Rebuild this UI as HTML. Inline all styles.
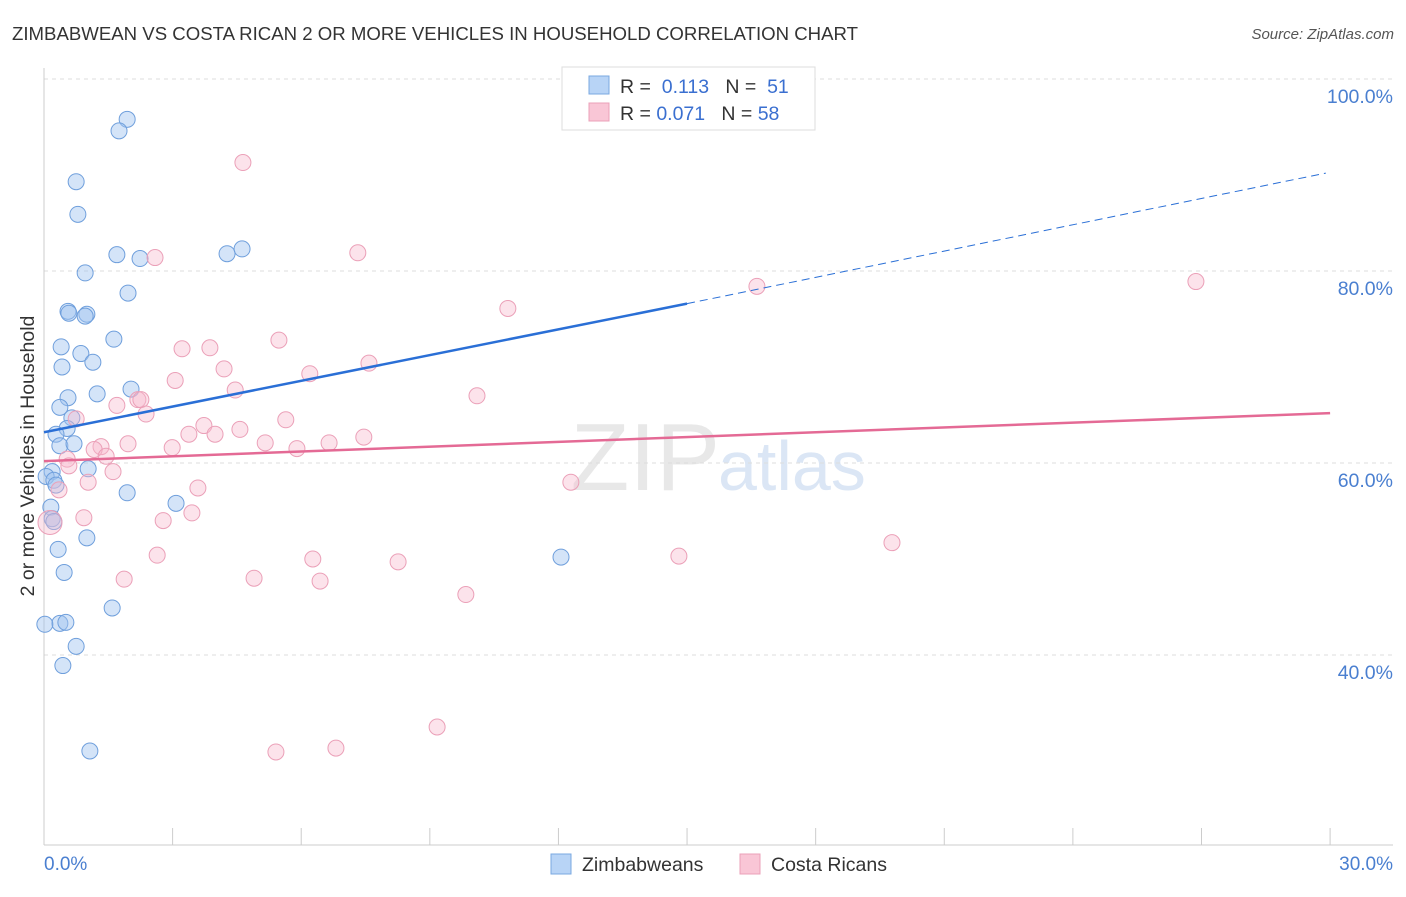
<!DOCTYPE html>
<html><head><meta charset="utf-8">
<style>
body{margin:0;background:#fff;font-family:"Liberation Sans",sans-serif;}
svg text{font-family:"Liberation Sans",sans-serif;}
</style></head>
<body>
<svg id="chart" width="1406" height="892" viewBox="0 0 1406 892" xmlns="http://www.w3.org/2000/svg">
<text x="12" y="40" font-size="18" fill="#333" textLength="846" lengthAdjust="spacingAndGlyphs">ZIMBABWEAN VS COSTA RICAN 2 OR MORE VEHICLES IN HOUSEHOLD CORRELATION CHART</text>
<text x="1394" y="39" font-size="15" fill="#555" text-anchor="end" font-style="italic">Source: ZipAtlas.com</text>
<text x="720" y="490" font-size="96" fill="#e8e8e8" text-anchor="end" font-family="Liberation Serif">ZIP</text>
<text x="718" y="490" font-size="70" fill="#dbe6f5">atlas</text>
<g id="grid"></g>
<g id="axes"></g>
<g id="pts"></g>
<g id="lines"></g>
<text transform="translate(34,456) rotate(-90)" font-size="19.5" fill="#333" text-anchor="middle">2 or more Vehicles in Household</text>
<text x="44" y="870" font-size="19" fill="#4a7fd0">0.0%</text>
<text x="1393" y="870" font-size="19" fill="#4a7fd0" text-anchor="end">30.0%</text>
<g>
<rect x="562" y="67" width="253" height="63" fill="#fff" stroke="#ddd"/>
<rect x="589" y="76" width="20" height="18" fill="#b8d4f6" stroke="#7aa8e0"/>
<rect x="589" y="103" width="20" height="18" fill="#f9c6d6" stroke="#eba0b8"/>
<text x="620" y="93" font-size="19.5" fill="#333">R = <tspan fill="#3a6fd0">&#160;0.113</tspan>&#160;&#160;&#160;N = <tspan fill="#3a6fd0">&#160;51</tspan></text>
<text x="620" y="120" font-size="19.5" fill="#333">R = <tspan fill="#3a6fd0">0.071</tspan>&#160;&#160;&#160;N = <tspan fill="#3a6fd0">58</tspan></text>
</g>
<g>
<rect x="551" y="854" width="20" height="20" fill="#b8d4f6" stroke="#7aa8e0"/>
<text x="582" y="871" font-size="19.5" fill="#333">Zimbabweans</text>
<rect x="740" y="854" width="20" height="20" fill="#f9c6d6" stroke="#eba0b8"/>
<text x="771" y="871" font-size="19.5" fill="#333">Costa Ricans</text>
</g>
</svg>
<script>
const yTicks=[40,60,80,100];
const yTickLabels=["40.0%","60.0%","80.0%","100.0%"];
const xTicks=[3,6,9,12,15,18,21,24,27,30];
const blueX=[1.94,1.75,0.75,0.79,1.70,2.24,4.27,4.62,0.96,1.96,0.56,0.58,1.00,0.96,1.63,0.40,0.86,0.42,1.14,2.03,1.24,0.56,0.37,0.65,0.54,0.28,0.37,0.70,1.03,0.19,0.05,0.23,0.28,1.94,3.08,0.16,0.19,0.23,1.00,0.33,0.47,1.59,0.37,0.51,0.02,0.75,0.44,1.07,12.06];
const blueY=[95.8,94.6,89.3,85.9,81.7,81.3,81.8,82.3,79.8,77.7,75.8,75.6,75.5,75.3,72.9,72.1,71.4,70.0,70.5,67.7,67.2,66.8,65.8,64.7,63.6,63.0,61.8,62.0,59.4,59.1,58.6,58.2,57.7,56.9,55.8,55.4,54.2,53.9,52.2,51.0,48.6,44.9,43.3,43.4,43.2,40.9,38.9,30.0,50.2];
const pinkX=[4.64,7.32,2.59,16.63,26.87,10.82,5.48,3.22,3.87,4.20,6.20,7.58,3.06,4.46,10.10,2.19,1.70,2.26,2.38,0.75,5.64,3.73,3.38,3.99,4.57,5.16,5.90,6.65,7.46,2.99,1.96,1.33,1.17,1.45,0.54,0.58,1.61,1.03,3.59,0.35,12.29,3.45,2.78,0.93,0.14,2.64,6.27,14.81,19.78,8.26,1.87,4.90,6.44,9.84,9.17,5.41,6.81];
const pinkY=[91.3,81.9,81.4,78.4,78.9,76.1,72.8,71.9,72.0,69.8,69.3,70.4,68.6,67.6,67.0,66.6,66.0,66.6,65.1,64.6,64.5,63.9,63.0,63.0,63.5,62.1,61.5,62.1,62.7,61.6,62.0,61.7,61.4,60.7,60.4,59.7,59.1,58.0,57.4,57.2,58.0,54.8,54.0,54.3,53.8,50.4,50.0,50.3,51.7,49.7,47.9,48.0,47.7,46.3,32.5,29.9,30.3];
const blueTrend=[63.2,76.6,90.2];
const pinkTrend=[60.2,65.2];
const X=v=>44+v*42.87, Y=v=>79+(100-v)*9.6;
const NS="http://www.w3.org/2000/svg";
function mk(t,a,p){const e=document.createElementNS(NS,t);for(const k in a)e.setAttribute(k,a[k]);p.appendChild(e);return e;}
const grid=document.getElementById('grid'),axes=document.getElementById('axes'),pts=document.getElementById('pts'),lines=document.getElementById('lines');
yTicks.forEach((t,i)=>{
 const l=mk('line',{x1:44,x2:1393,y1:Y(t),y2:Y(t),stroke:'#ddd','stroke-dasharray':'4,4'},grid);
 
 
 const tx=mk('text',{x:1393,y:Y(t)+24,'font-size':19.5,fill:'#4a7fd0','text-anchor':'end'},axes);
 tx.textContent=yTickLabels[i];
 
 
});
const ya=mk('line',{x1:44,x2:44,y1:68,y2:845,stroke:'#ccc'},axes);


const xa=mk('line',{x1:44,x2:1393,y1:845,y2:845,stroke:'#ccc'},axes);


xTicks.forEach(t=>{
 const l=mk('line',{x1:X(t),x2:X(t),y1:828,y2:845,stroke:'#ccc'},axes);
 
 
});
blueX.forEach((v,i)=>{
 const c=mk('circle',{cx:X(v),cy:Y(blueY[i]),r:8,fill:'rgba(160,196,240,0.45)',stroke:'#6f9fdc','stroke-width':1},pts);
 
 
});
pinkX.forEach((v,i)=>{
 const c=mk('circle',{cx:X(v),cy:Y(pinkY[i]),r:(i==44?12:8),fill:'rgba(247,185,204,0.4)',stroke:'#eba0b8','stroke-width':1},pts);
 
 
});
const b1=mk('line',{x1:X(0),y1:Y(blueTrend[0]),x2:X(15),y2:Y(blueTrend[1]),stroke:'#2a6fd6','stroke-width':2.5},lines);


const b2=mk('line',{x1:X(15),y1:Y(blueTrend[1]),x2:X(29.9),y2:Y(blueTrend[2]),stroke:'#2a6fd6','stroke-width':1,'stroke-dasharray':'8,5'},lines);


const p1=mk('line',{x1:X(0),y1:Y(pinkTrend[0]),x2:X(30),y2:Y(pinkTrend[1]),stroke:'#e46a95','stroke-width':2.5},lines);


</script>
</body></html>
